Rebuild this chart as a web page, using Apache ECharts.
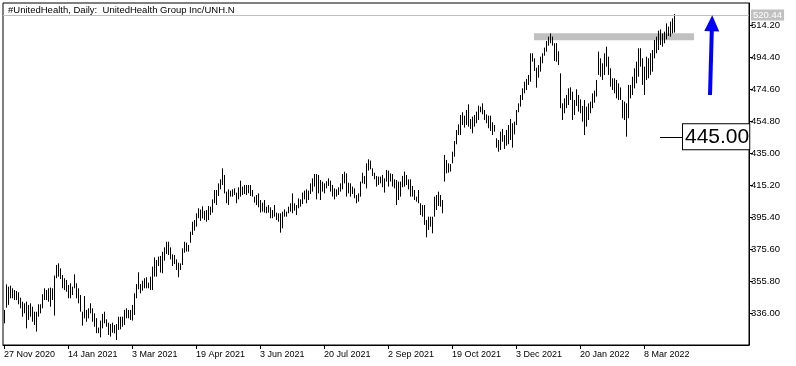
<!DOCTYPE html>
<html><head><meta charset="utf-8">
<script src="https://cdn.jsdelivr.net/npm/echarts@6/dist/echarts.min.js"></script>
<style>html,body{margin:0;padding:0;background:#fff}#c{width:796px;height:366px}</style>
</head><body><div id="c"></div>
<script>
const titleText = '#UnitedHealth, Daily:  UnitedHealth Group Inc/UNH.N';
const tickLabels = ['27 Nov 2020','14 Jan 2021','3 Mar 2021','19 Apr 2021','3 Jun 2021','20 Jul 2021','2 Sep 2021','19 Oct 2021','3 Dec 2021','20 Jan 2022','8 Mar 2022'];
const labelStep = 32;
const totalSlots = 373;
const yTicks = [336.00, 355.80, 375.60, 395.40, 415.20, 435.00, 454.80, 474.60, 494.40, 514.20];
const yMin = 316.2, yMax = 527.8;

const highs = [
337.9,353.7,352.3,352.9,351.3,350.2,349.6,348.8,345.5,343.0,
342.0,343.0,341.0,342.0,339.9,336.8,336.8,341.4,341.4,347.6,
351.3,350.2,351.3,351.7,351.3,359.1,365.7,366.7,363.6,359.5,
357.5,356.4,353.3,354.4,352.3,359.9,354.4,351.3,347.1,336.8,
346.5,337.9,338.9,342.0,338.9,335.8,332.8,327.0,331.3,335.4,
336.8,332.1,330.0,329.2,330.0,328.6,329.2,333.7,333.7,333.7,
337.9,338.9,337.9,337.9,341.0,348.2,353.9,361.2,353.9,356.0,
357.5,358.1,354.8,358.5,364.7,370.4,368.8,370.9,371.3,373.9,
376.6,380.1,380.1,376.6,372.3,371.9,369.2,367.1,366.7,376.0,
380.1,379.5,378.1,386.3,392.5,393.5,397.7,400.8,400.0,402.0,
399.2,399.7,402.2,401.8,406.3,412.1,412.1,416.2,418.7,425.5,
421.4,411.1,412.5,411.7,412.5,413.1,410.5,413.8,417.9,414.2,
415.2,415.2,415.2,415.2,412.1,408.0,409.0,410.0,405.9,404.3,
405.9,401.8,402.8,401.4,399.7,402.8,398.1,397.7,397.7,398.7,
400.1,398.7,401.8,403.9,410.0,403.9,402.8,406.9,406.3,410.5,
411.7,412.5,411.7,416.2,419.3,422.0,422.0,421.4,418.3,417.3,
416.2,417.5,419.3,417.9,415.2,413.1,412.5,413.8,416.2,422.0,
423.4,422.4,416.6,416.2,414.2,413.1,409.0,410.0,417.3,422.8,
420.8,428.6,431.1,430.3,425.5,422.8,420.8,420.4,420.4,421.4,
419.3,424.5,424.1,422.4,422.0,418.7,418.3,417.3,417.3,420.8,
423.5,421.4,418.7,418.7,414.6,412.1,408.0,412.1,403.9,402.8,
402.8,393.5,395.6,395.6,395.6,408.0,409.0,411.1,409.0,405.9,
433.8,430.7,428.6,428.2,435.8,442.4,449.2,452.7,458.5,460.2,
458.1,461.6,465.1,456.0,457.5,458.5,460.6,464.3,463.7,465.7,
461.6,458.9,458.1,458.1,454.0,452.3,444.1,443.0,448.2,449.9,
446.1,449.2,452.3,456.0,453.4,454.4,461.6,465.7,470.9,475.0,
479.1,480.8,483.3,496.7,496.7,493.6,487.8,489.4,494.6,496.7,
500.2,504.3,507.0,509.0,507.0,502.9,503.0,498.0,484.3,465.7,
468.8,470.9,475.0,475.6,472.9,467.8,474.4,470.9,468.2,464.1,
467.8,463.7,465.7,466.8,471.9,473.6,480.2,497.7,493.6,490.5,
496.7,500.8,494.6,487.4,481.2,481.2,480.2,478.1,475.6,467.8,
466.8,465.7,477.1,477.1,482.2,487.4,491.5,499.8,499.8,493.6,
488.4,494.6,493.6,496.7,498.7,504.9,507.0,510.7,511.5,509.0,
510.1,515.2,513.2,516.3,518.3,521.0
];
const lows = [
329.6,339.3,341.0,345.1,345.1,344.0,344.0,341.4,338.9,333.7,
335.8,326.5,331.7,333.7,330.6,328.6,324.5,333.7,335.8,338.9,
344.0,344.0,343.0,339.9,344.0,334.4,357.5,358.5,357.0,351.3,
350.2,349.2,345.1,345.1,347.1,351.3,345.1,342.0,336.8,328.2,
332.7,330.6,332.7,335.8,330.6,327.5,323.5,323.5,320.9,326.5,
329.6,327.5,322.4,321.4,323.8,323.4,319.3,325.5,325.9,327.5,
328.6,332.7,332.7,331.7,331.3,334.8,345.1,350.6,348.2,349.8,
351.3,351.3,351.3,350.2,350.2,358.5,358.5,365.1,361.0,360.6,
368.4,372.5,371.9,369.2,365.1,366.3,362.6,358.1,362.6,365.7,
373.3,374.0,374.0,379.5,384.3,386.9,389.4,394.6,393.0,394.5,
393.5,392.5,393.5,396.6,398.1,403.9,402.8,408.4,412.5,415.2,
410.0,403.9,402.8,408.0,408.0,409.0,403.9,406.3,408.0,409.0,
409.6,409.0,410.1,408.4,408.0,404.3,402.8,401.4,398.1,398.7,
398.1,397.7,398.1,394.6,394.6,395.6,393.5,392.5,385.7,388.4,
395.6,395.6,397.7,398.7,397.7,399.3,396.6,400.8,401.8,403.4,
406.3,403.9,405.9,409.6,411.1,414.2,406.3,410.0,405.9,411.1,
410.0,413.1,414.6,411.1,408.0,406.3,408.0,409.0,411.1,412.5,
416.2,408.0,410.0,408.0,409.6,407.0,403.9,404.9,408.0,416.2,
415.8,413.1,424.1,424.9,420.8,418.7,414.2,415.2,416.2,413.8,
410.5,417.3,414.2,417.3,414.2,413.1,402.8,405.9,408.0,413.8,
414.2,415.2,412.5,408.0,408.0,405.9,404.9,403.9,396.6,395.6,
390.5,382.8,387.4,389.4,385.3,395.6,399.7,402.2,401.8,397.7,
417.3,422.4,422.8,423.5,428.6,432.7,440.4,446.1,446.1,452.3,
450.7,452.3,451.3,449.9,447.2,451.3,453.4,455.4,460.2,458.9,
455.4,453.4,450.3,448.6,446.1,448.2,438.3,435.8,436.9,442.0,
437.5,439.5,440.4,443.0,438.3,446.5,452.3,460.2,463.7,467.8,
471.9,474.0,477.1,479.1,491.5,485.7,475.4,481.6,485.3,490.5,
495.2,497.7,501.4,502.9,501.4,491.9,491.5,489.4,462.7,455.4,
459.6,462.7,464.7,467.8,455.4,458.5,464.1,460.6,459.6,454.4,
446.1,451.3,455.4,459.6,462.7,466.1,469.9,483.3,482.2,480.2,
483.3,488.4,483.3,476.0,474.0,471.9,468.8,467.8,467.8,456.5,
455.4,445.1,456.5,468.8,470.9,475.0,478.1,482.2,488.4,477.1,
470.9,480.2,481.2,483.3,485.3,493.6,496.7,498.7,501.8,500.8,
502.9,505.3,507.4,507.0,509.0,509.5
];
const lastPrice = 520.44;
const levelPrice = 445.00;
const levelSpan = [328, 340];
const zonePrice = 506.9;
const zoneSpan = [265, 345];
const arrowFrom = [353, 470.9];
const arrowTo = [354, 515.3];

const categories = Array.from({length: totalSlots}, (_, i) =>
  (i % labelStep === 0 && i / labelStep < tickLabels.length) ? tickLabels[i / labelStep] : '');
const barData = highs.map((h, i) => [i, lows[i], h]);
const FONT = 'Liberation Sans';

const chart = echarts.init(document.getElementById('c'), null, {renderer: 'canvas'});
chart.setOption({
  animation: false,
  backgroundColor: '#fff',
  title: {text: titleText, left: 8, top: 5, padding: 0,
    textStyle: {fontFamily: FONT, fontSize: 9.5, fontWeight: 'normal', color: '#000'}},
  grid: {left: 3, right: 47, top: 3, bottom: 21, show: true, borderColor: '#000', borderWidth: 1},
  xAxis: {
    type: 'category', data: categories, boundaryGap: true,
    axisLine: {show: true, lineStyle: {color: '#000', width: 1}},
    axisTick: {show: true, alignWithLabel: true, length: 4, lineStyle: {color: '#000'},
      interval: (i, v) => v !== ''},
    axisLabel: {interval: (i, v) => v !== '', align: 'left', margin: 5,
      fontFamily: FONT, fontSize: 9, color: '#000'},
    splitLine: {show: false}
  },
  yAxis: {
    type: 'value', position: 'right', min: yMin, max: yMax, scale: true,
    axisLine: {show: true, lineStyle: {color: '#000', width: 1}},
    axisTick: {show: true, length: 4, customValues: yTicks, lineStyle: {color: '#000'}},
    axisLabel: {customValues: yTicks, margin: 2, fontFamily: FONT, fontSize: 9.5, color: '#000',
      formatter: v => v.toFixed(2)},
    splitLine: {show: false}
  },
  series: [
    {
      type: 'line', z: 1, silent: true, symbol: 'none',
      data: [[zoneSpan[0], zonePrice], [zoneSpan[1], zonePrice]],
      lineStyle: {color: '#c0c0c0', width: 7, cap: 'butt'},
      markLine: {
        silent: true, symbol: ['none', 'none'], animation: false,
        data: [
          {yAxis: lastPrice, lineStyle: {color: '#c0c0c0', width: 1, type: 'solid'},
           label: {show: true, position: 'end', distance: 2, formatter: lastPrice.toFixed(2),
             backgroundColor: '#c0c0c0', color: '#fff', fontFamily: FONT, fontSize: 9.5, padding: [1, 2, 0, 2]}},
          [{coord: [levelSpan[0], levelPrice]}, {coord: [levelSpan[1], levelPrice],
            lineStyle: {color: '#000', width: 1, type: 'solid'},
            label: {show: true, position: 'end', distance: -1, formatter: levelPrice.toFixed(2),
              backgroundColor: '#fff', borderColor: '#000', borderWidth: 1, color: '#000',
              fontFamily: FONT, fontSize: 21, padding: [3, 0, 1, 2]}}],
          [{coord: arrowFrom, symbol: 'none'}, {coord: arrowTo, symbol: 'triangle', symbolSize: [15, 16],
            lineStyle: {color: '#0000ff', width: 4, type: 'solid'}, label: {show: false}}]
        ]
      }
    },
    {
      type: 'custom', z: 3, silent: true,
      data: barData,
      encode: {x: 0, y: [1, 2]},
      renderItem: (params, api) => {
        const lo = api.coord([api.value(0), api.value(1)]);
        const hi = api.coord([api.value(0), api.value(2)]);
        const x = Math.round(lo[0]) + 0.5;
        return {type: 'line', shape: {x1: x, y1: lo[1], x2: x, y2: hi[1]},
          style: {stroke: '#000', lineWidth: 1}};
      }
    }
  ]
});
</script></body></html>
